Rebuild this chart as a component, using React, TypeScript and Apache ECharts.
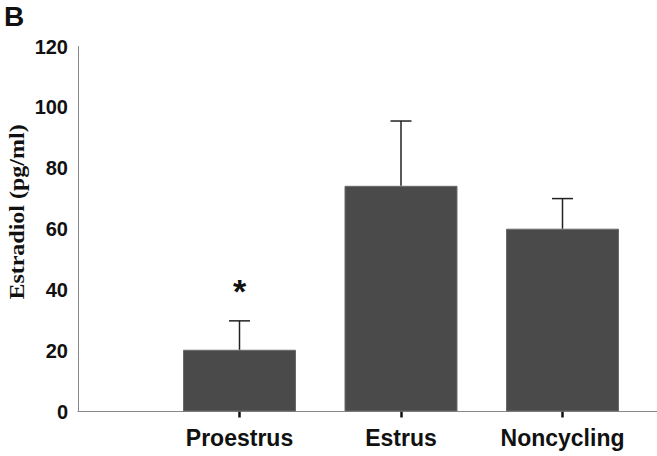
import React, { useEffect, useRef } from "react";
import * as echarts from "echarts";

const categories = ["Proestrus", "Estrus", "Noncycling"];
const means = [20.3, 74.2, 60.1];
const sems = [9.5, 21.3, 9.9];
const significance = ["*", "", ""];
const yTicks = { min: 0, max: 120, interval: 20 };
const panelLabel = "B";
const yTitle = "Estradiol (pg/ml)";

export default function App() {
  const ref = useRef<HTMLDivElement>(null);
  useEffect(() => {
    if (!ref.current) return;
    const chart = echarts.init(ref.current, null, { renderer: "svg" });
    const axisCats = ["", ...categories, ""];
    const barData = ["-", ...means, "-"];
    const errData = categories.map((c, i) => [i + 1, means[i], means[i] + sems[i], i]);
    const sansBold = { fontFamily: "Liberation Sans, Arial, sans-serif", fontWeight: "bold" as const, color: "#111" };
    chart.setOption({
      animation: false,
      grid: { left: 78, top: 46.5, width: 646, bottom: 44.5, containLabel: false, outerBoundsMode: "none" },
      xAxis: {
        type: "category",
        data: axisCats,
        boundaryGap: false,
        axisLine: { lineStyle: { color: "#888", width: 1 } },
        axisTick: {
          show: true,
          inside: false,
          length: 6,
          interval: (idx: number, val: string) => val !== "",
          lineStyle: { color: "#111", width: 2.5 },
        },
        axisLabel: { ...sansBold, fontSize: 23, margin: 15, interval: 0 },
        splitLine: { show: false },
      },
      yAxis: {
        type: "value",
        min: yTicks.min,
        max: yTicks.max,
        interval: yTicks.interval,
        axisLine: { show: true, lineStyle: { color: "#888", width: 1 } },
        axisTick: { show: false },
        splitLine: { show: false },
        axisLabel: { ...sansBold, fontSize: 20, margin: 10 },
      },
      graphic: [
        {
          type: "text",
          x: 4,
          y: 16.5,
          style: { text: panelLabel, fontSize: 28, fontWeight: "bold", fontFamily: "Liberation Sans, Arial, sans-serif", fill: "#111", verticalAlign: "middle", align: "left" },
        },
        {
          type: "text",
          x: 17.5,
          y: 212,
          rotation: Math.PI / 2,
          scaleX: 1.2,
          style: { text: yTitle, fontSize: 20, fontWeight: "bold", fontFamily: "Liberation Serif, Times New Roman, serif", fill: "#111", align: "center", verticalAlign: "middle" },
        },
      ],
      series: [
        {
          type: "bar",
          data: barData,
          barWidth: 113,
          itemStyle: { color: "#4a4a4a", borderColor: "#6a6a6a", borderWidth: 1 },
          z: 2,
        },
        {
          type: "custom",
          data: errData,
          encode: { x: 0, y: [1, 2] },
          z: 3,
          renderItem: (params: any, api: any) => {
            const x = api.value(0);
            const p0 = api.coord([x, api.value(1)]);
            const p1 = api.coord([x, api.value(2)]);
            const idx = api.value(3);
            const style = { stroke: "#222", lineWidth: 1.5 };
            const children: any[] = [
              { type: "line", shape: { x1: p0[0], y1: p0[1], x2: p1[0], y2: p1[1] }, style },
              { type: "line", shape: { x1: p1[0] - 10.5, y1: p1[1], x2: p1[0] + 10.5, y2: p1[1] }, style },
            ];
            if (significance[idx]) {
              children.push({
                type: "text",
                x: p1[0],
                y: p1[1] - 30,
                style: { text: significance[idx], fontSize: 34, fontWeight: "bold", fontFamily: "Liberation Sans, Arial, sans-serif", fill: "#111", align: "center", verticalAlign: "middle" },
              });
            }
            return { type: "group", children };
          },
        },
      ],
    });
    return () => chart.dispose();
  }, []);
  return (
    <div
      ref={ref}
      style={{ position: "fixed", left: 0, top: 0, width: 657, height: 456, overflow: "hidden", background: "#fff" }}
    />
  );
}
